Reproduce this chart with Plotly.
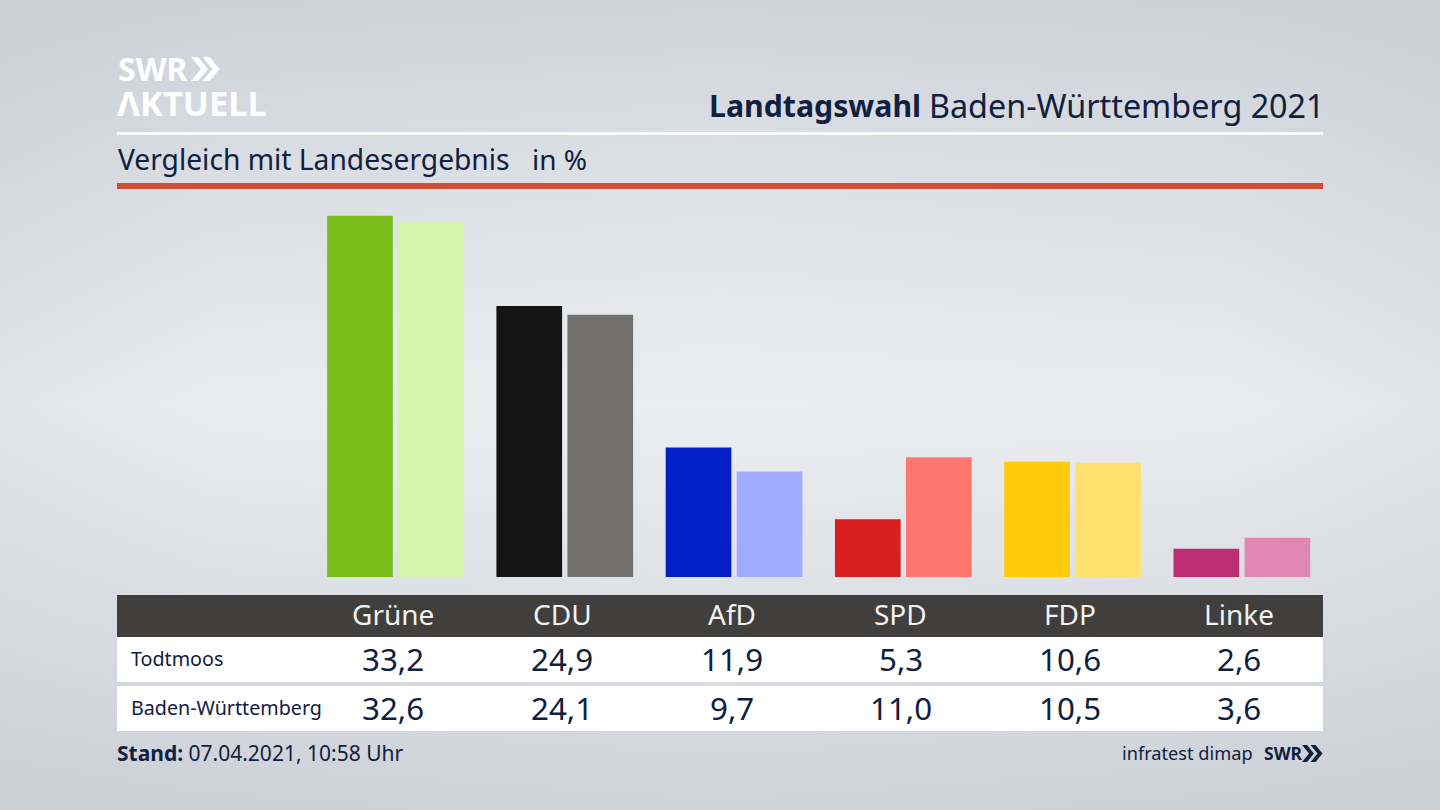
import numpy as np
import plotly.graph_objects as go

parties = ["Grüne", "CDU", "AfD", "SPD", "FDP", "Linke"]
todtmoos = [33.2, 24.9, 11.9, 5.3, 10.6, 2.6]
land = [32.6, 24.1, 9.7, 11.0, 10.5, 3.6]
colors_local = ["#78bd1a", "#141414", "#0220c4", "#d81f1f", "#ffcb0a", "#bb2d74"]
colors_land = ["#d6f5a8", "#71706e", "#9fabff", "#ff7570", "#ffe070", "#df88b6"]

W, H = 1440, 810
FONT = "Noto Sans"
INK = "#10203f"

def px(x): return x / W
def py(y): return 1 - y / H

def fmt(v): return f"{v:.1f}".replace(".", ",")

def label(x, y, text, size, color=INK, anchor="left", font=FONT, **kw):
    return dict(xref="paper", yref="paper", x=px(x), y=py(y), text=text, showarrow=False,
                xanchor=anchor, yanchor="middle", align=anchor,
                font=dict(family=font, size=size, color=color), **kw)

def rect(x0, y0, x1, y1, color):
    return dict(type="rect", xref="paper", yref="paper", x0=px(x0), x1=px(x1), y0=py(y0), y1=py(y1),
                fillcolor=color, line_width=0, layer="above")

def chevrons(x, y0, y1, w, t, gap, color):
    """Double chevron of the SWR logo."""
    out = []
    m = (y0 + y1) / 2
    for i in range(2):
        a = x + i * gap
        pts = [(a, y0), (a + t, y0), (a + t + w, m), (a + t, y1), (a, y1), (a + w, m)]
        path = "M " + " L ".join(f"{px(p)},{py(q)}" for p, q in pts) + " Z"
        out.append(dict(type="path", xref="paper", yref="paper", path=path,
                        fillcolor=color, line_width=0))
    return out

fig = go.Figure()

# page background: soft light band across the middle, darker toward the edges
bg_stops_y = [0, 0.2, 0.5, 0.8, 1]
bg_stops_x = [0, 0.15, 0.5, 0.85, 1]
bg_rows = [[0.00, 0.06, 0.14, 0.06, 0.00],
           [0.30, 0.42, 0.50, 0.42, 0.30],
           [0.72, 0.95, 1.00, 0.95, 0.72],
           [0.25, 0.45, 0.55, 0.45, 0.25],
           [0.00, 0.08, 0.14, 0.08, 0.00]]
fig.add_trace(go.Heatmap(x=bg_stops_x, y=bg_stops_y, z=bg_rows, xaxis="x", yaxis="y",
                         zsmooth="best", showscale=False, hoverinfo="skip", zmin=0, zmax=1,
                         colorscale=[[0, "#cbcfd6"], [1, "#ebedf1"]]))

fig.add_bar(x=parties, y=todtmoos, name="Todtmoos", xaxis="x2", yaxis="y2",
            marker=dict(color=colors_local, line_width=0))
fig.add_bar(x=parties, y=land, name="Baden-Württemberg", xaxis="x2", yaxis="y2",
            marker=dict(color=colors_land, line_width=0))

shapes = [
    rect(117, 132, 1323, 135, "#ffffff"),
    rect(117, 183, 1323, 189, "#cb5138"),
    rect(117, 595, 1323, 637, "#403f3d"),
    rect(117, 637, 1323, 682, "#ffffff"),
    rect(117, 686, 1323, 731, "#ffffff"),
]
shapes += chevrons(191, 57, 81, 10, 7, 11.5, "#ffffff")
shapes += chevrons(1302, 745, 762, 7, 5, 8.5, INK)

ann = [
    label(116, 67.5, "<b>SWR</b>", 32, "#ffffff", height=30),
    label(115, 102, "<b>ΛKTUELL</b>", 34.5, "#ffffff", height=30),
    label(1327, 105, "Baden-Württemberg 2021", 32.3, anchor="right"),
    label(923, 105, "<b>Landtagswahl</b>", 30.25, anchor="right"),
    label(115.5, 159, "Vergleich mit Landesergebnis", 28.2),
    label(529.5, 159, "in %", 28),
    label(129, 658.5, "Todtmoos", 19.7),
    label(129, 707.5, "Baden-Württemberg", 19.7),
    label(114.5, 753, "<b>Stand:</b> 07.04.2021, 10:58 Uhr", 21),
    label(1120, 752.5, "infratest dimap", 18.2),
    label(1262, 752.5, "<b>SWR</b>", 17.5),
]
for p, a, b in zip(parties, todtmoos, land):
    for y, text, size, color in ((614, p, 28, "#f2f2f0"), (658.5, fmt(a), 31.3, INK), (707.5, fmt(b), 31.3, INK)):
        ann.append(dict(xref="x2", yref="paper", x=p, xshift=-2.5, y=py(y), text=text, showarrow=False,
                        xanchor="center", yanchor="middle",
                        font=dict(family=FONT, size=size, color=color)))

BASE, TOP = 577, 200
fig.update_layout(
    width=W, height=H, margin=dict(l=0, r=0, t=0, b=0, pad=0),
    paper_bgcolor="#dfe1e6", plot_bgcolor="rgba(0,0,0,0)",
    showlegend=False, barmode="group", bargap=0.161, bargroupgap=0.075,
    xaxis=dict(domain=[0, 1], range=[0, 1], visible=False),
    yaxis=dict(domain=[0, 1], range=[0, 1], visible=False),
    xaxis2=dict(domain=[px(310.85), px(1326.5)], range=[-0.5, 5.5], visible=False, type="category",
                categoryorder="array", categoryarray=parties, anchor="y2"),
    yaxis2=dict(domain=[py(BASE), py(TOP)], range=[0, (BASE - TOP) / 10.88], visible=False, anchor="x2"),
    shapes=shapes, annotations=ann,
)
fig.write_html("out.html", config={"displayModeBar": False},
               post_script="document.body.style.margin='0';")
